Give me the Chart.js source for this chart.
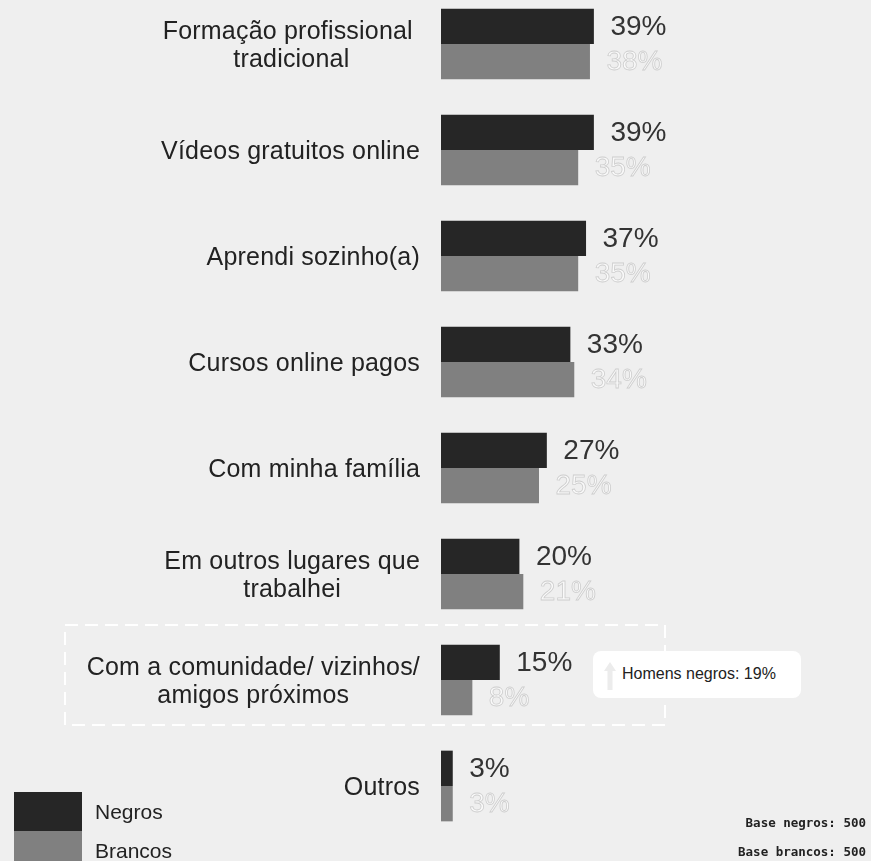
<!DOCTYPE html>
<html>
<head>
<meta charset="utf-8">
<script src="https://cdn.jsdelivr.net/npm/chart.js@4/dist/chart.umd.min.js"></script>
<style>
  html, body { margin:0; padding:0; background:#efefef; }
  #wrap { position:relative; width:871px; height:861px; overflow:hidden; background:#efefef; font-family:"Liberation Sans", Arial, sans-serif; }
  #chart { position:absolute; left:0; top:-9px; }
  .dash-box { position:absolute; left:64px; top:624px; }
  .note { position:absolute; left:593px; top:651px; width:208px; height:47px; background:#fff; border-radius:8px; }
  .note span { position:absolute; left:29px; top:14px; font-size:16px; color:#222; }
  .note svg { position:absolute; left:9px; top:9px; }
  .leg { position:absolute; left:14px; width:68px; }
  .leg-txt { position:absolute; left:95px; font-size:21px; color:#222; }
  .base { position:absolute; right:5px; font-family:"DejaVu Sans Mono", monospace; font-weight:bold; font-size:12.5px; color:#222; }
</style>
</head>
<body>
<div id="wrap">
  <svg class="dash-box" width="604" height="104"><rect x="1" y="1" width="600" height="100" fill="none" stroke="#fff" stroke-width="2" stroke-dasharray="13 7"/></svg>
  <canvas id="chart" width="871" height="870"></canvas>
  <div class="note">
    <svg width="16" height="32" viewBox="0 0 16 32"><path d="M8 2 L14 11 L10.5 11 L10.5 30 L5.5 30 L5.5 11 L2 11 Z" fill="#ececec"/></svg>
    <span>Homens negros: 19%</span>
  </div>
  <div class="leg" style="top:792px;height:39px;background:#262626"></div>
  <div class="leg" style="top:831px;height:40px;background:#808080"></div>
  <div class="leg-txt" style="top:800px">Negros</div>
  <div class="leg-txt" style="top:839px">Brancos</div>
  <div class="base" style="top:815px">Base negros: 500</div>
  <div class="base" style="top:844px">Base brancos: 500</div>
</div>
<script>
// categories (multi-line labels)
const categories = [
  ['Formação profissional ', 'tradicional'],
  'Vídeos gratuitos online',
  'Aprendi sozinho(a)',
  'Cursos online pagos',
  'Com minha família',
  ['Em outros lugares que', 'trabalhei'],
  ['Com a comunidade/ vizinhos/', 'amigos próximos'],
  'Outros'
];
const negros = [39, 39, 37, 33, 27, 20, 15, 3];
const brancos = [38, 35, 35, 34, 25, 21, 8, 3];
const seriesNames = ['Negros', 'Brancos'];

const FONT = '"Liberation Sans", Arial, sans-serif';

// category labels: block right-aligned, lines centred inside the block
const catLabels = {
  id: 'catLabels',
  afterDraw(chart){
    const ctx = chart.ctx, ys = chart.scales.y;
    const right = ys.right - 21, lh = 28;
    ctx.save();
    ctx.font = '25px ' + FONT;
    ctx.letterSpacing = '0.2px';
    ctx.fillStyle = '#222';
    ctx.textAlign = 'center';
    ctx.textBaseline = 'middle';
    chart.data.labels.forEach((lab, i) => {
      const lines = Array.isArray(lab) ? lab : [lab];
      const w = Math.max(...lines.map(l => ctx.measureText(l).width));
      const cx = right - w/2;
      const y0 = ys.getPixelForTick(i) + 2 - (lines.length - 1) * lh / 2;
      lines.forEach((l, j) => ctx.fillText(l.trim(), cx + (l !== l.trim() ? -ctx.measureText(' ').width/2 : 0), y0 + j*lh));
    });
    ctx.restore();
  }
};

// value labels next to every bar
const valueLabels = {
  id: 'valueLabels',
  afterDatasetsDraw(chart){
    const ctx = chart.ctx;
    ctx.save();
    ctx.font = '28px ' + FONT;
    ctx.textBaseline = 'middle';
    ctx.textAlign = 'left';
    chart.data.datasets.forEach((ds, di) => {
      const meta = chart.getDatasetMeta(di);
      meta.data.forEach((bar, i) => {
        const txt = ds.data[i] + '%';
        const x = bar.x + 16.5, y = bar.y + 1;
        if(di === 0){
          ctx.fillStyle = '#333';
          ctx.fillText(txt, x, y);
        }else{
          ctx.fillStyle = '#f9f9f9';
          ctx.fillText(txt, x, y);
          ctx.strokeStyle = '#cdcdcd';
          ctx.lineWidth = 0.8;
          ctx.strokeText(txt, x, y);
        }
      });
    });
    ctx.restore();
  }
};

new Chart(document.getElementById('chart'), {
  type: 'bar',
  data: {
    labels: categories,
    datasets: [
      { label: seriesNames[0], data: negros, backgroundColor: '#262626', barPercentage: 1, categoryPercentage: 0.667 },
      { label: seriesNames[1], data: brancos, backgroundColor: '#808080', barPercentage: 1, categoryPercentage: 0.667 }
    ]
  },
  options: {
    indexAxis: 'y',
    responsive: false,
    animation: false,
    devicePixelRatio: 1,
    layout: { padding: { top: 0, right: 38, bottom: 22, left: 0 } },
    plugins: { legend: { display: false }, tooltip: { enabled: false } },
    scales: {
      x: { display: false, min: 0, max: 100 },
      y: {
        grid: { display: false, drawTicks: false },
        border: { display: false },
        ticks: { display: false },
        afterFit(scale){ scale.width = 441; scale.paddingTop = 0; scale.paddingBottom = 0; }
      }
    }
  },
  plugins: [valueLabels, catLabels]
});
</script>
</body>
</html>
